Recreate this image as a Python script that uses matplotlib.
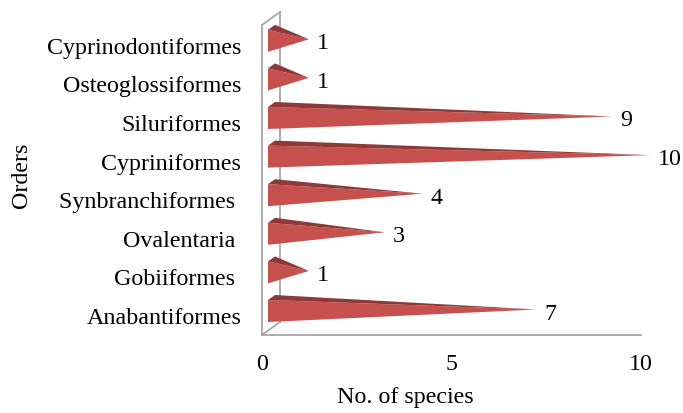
import matplotlib.pyplot as plt
import numpy as np

orders = ["Anabantiformes", "Gobiiformes ", "Ovalentaria ", "Synbranchiformes ",
          "Cypriniformes", "Siluriformes", "Osteoglossiformes", "Cyprinodontiformes"]
species = [7, 1, 3, 4, 10, 9, 1, 1]

FRONT = "#C5504E"
TOP = "#8E3938"
WALL = "#A6A6A6"
FS = 17.3

plt.rcParams["font.family"] = ["Liberation Serif", "DejaVu Serif"]

fig = plt.figure(figsize=(6.83, 4.13), dpi=100)
ax = fig.add_axes([262 / 683, 78 / 413, 379 / 683, 323 / 413])

# pixel -> data scale factors
px_x = 10 / 379
px_y = 1 / 38.6

ax.set_xlim(0, 10)
ax.set_ylim(-19 * px_y, 304 * px_y)

# 3d "walls"
dx, dy = 18 * px_x, 13 * px_y
y_lo, y_hi = -19 * px_y, 304 * px_y
ax.plot([0, 0], [y_lo, y_hi - dy], color=WALL, lw=1.3, clip_on=False)
ax.plot([dx, dx], [y_lo + dy, y_hi], color=WALL, lw=1.3, clip_on=False)
ax.plot([0, dx], [y_hi - dy, y_hi], color=WALL, lw=1.3, clip_on=False)
ax.plot([0, dx], [y_lo, y_lo + dy], color=WALL, lw=1.3, clip_on=False)
ax.plot([0, 10], [y_lo, y_lo], color=WALL, lw=1.3, clip_on=False)

# pyramids
base_x = 6 * px_x
half_h = 11 * px_y
for i, v in enumerate(species):
    yc = i + 5 * px_y
    tip_x = v + 9 * px_x
    tip_y = yc + 1.5 * px_y
    ax.fill([base_x, base_x, tip_x], [yc + half_h, yc - half_h, tip_y],
            color=FRONT, lw=0, clip_on=False, zorder=3)
    ax.fill([base_x, base_x + 7 * px_x, tip_x],
            [yc + half_h, yc + half_h + 5 * px_y, tip_y],
            color=TOP, lw=0, clip_on=False, zorder=3)
    ax.text(tip_x + 8 * px_x, i + 2 * px_y, str(v), fontsize=FS,
            ha="left", va="center", clip_on=False)

ax.set_yticks(range(len(orders)))
ax.set_yticklabels(orders, fontsize=FS)
ax.set_xticks([0, 5, 10])
ax.set_xticklabels(["0", "5", "10"], fontsize=FS)
ax.tick_params(axis="y", length=0, pad=15)
ax.tick_params(axis="x", length=0, pad=14)
for s in ax.spines.values():
    s.set_visible(False)

ax.set_xlabel("No. of species", fontsize=FS)
ax.xaxis.set_label_coords((405 - 262) / 379, (335 - 397) / 323)
ax.xaxis.label.set_va("center")
ax.set_ylabel("Orders", fontsize=FS)
ax.yaxis.set_label_coords((22 - 262) / 379, (335 - 175) / 323)
ax.yaxis.label.set_va("center")

fig.savefig("out.png", dpi=100)
